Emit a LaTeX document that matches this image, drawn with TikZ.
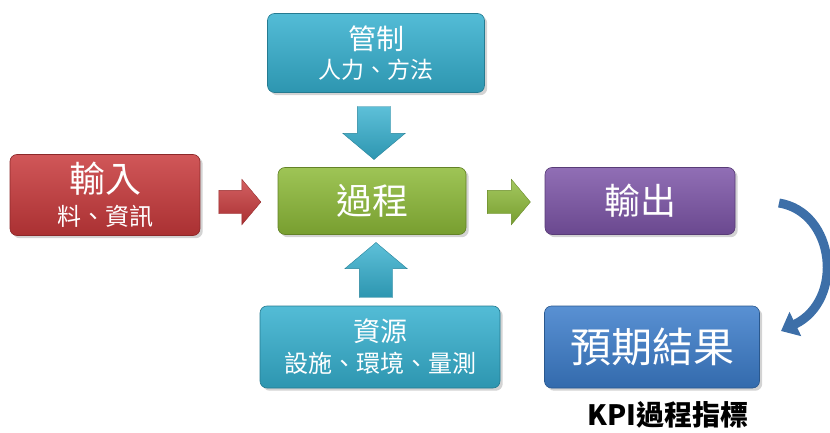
\documentclass[tikz,border=0pt]{standalone}
\usepackage{fontspec}
\setmainfont{Noto Sans CJK TC}
\usepackage{tikz}
\usetikzlibrary{shapes.arrows,shadows,arrows.meta}

\definecolor{inred}{HTML}{C8393B}
\definecolor{procgreen}{HTML}{8DBA38}
\definecolor{outpurple}{HTML}{7D55A8}
\definecolor{ctrlcyan}{HTML}{35B0CF}
\definecolor{resblue}{HTML}{3C7DCB}
\definecolor{bendblue}{HTML}{3D6FA8}

\tikzset{
  stagebox/.style={rounded corners=7pt, draw=#1!70!black, line width=0.6pt,
    top color=#1!85!white, bottom color=#1!85!black, text=white,
    align=center, drop shadow={opacity=0.35}},
  flowarrow/.style={single arrow, draw=#1!75!black, line width=0.4pt,
    top color=#1!80!white, bottom color=#1!85!black,
    inner xsep=0pt, single arrow tip angle=100},
}

\begin{document}
\begin{tikzpicture}[x=1pt,y=-1pt]
\useasboundingbox (0,0) rectangle (830,433);

\node[stagebox=ctrlcyan, minimum width=217pt, minimum height=79pt,
  font=\fontsize{23}{29}\selectfont] (ctrl) at (376,53)
  {{\fontsize{28}{29}\selectfont 管制}\\人力、方法};
\node[stagebox=inred, minimum width=190pt, minimum height=81pt,
  font=\fontsize{24}{33}\selectfont] (input) at (105,195)
  {{\fontsize{36}{33}\selectfont 輸入}\\料、資訊};
\node[stagebox=procgreen, minimum width=188pt, minimum height=67pt,
  font=\fontsize{36}{40}\selectfont] (proc) at (372,201) {過程};
\node[stagebox=outpurple, minimum width=190pt, minimum height=67pt,
  font=\fontsize{36}{40}\selectfont] (output) at (640,201) {輸出};
\node[stagebox=ctrlcyan, minimum width=240pt, minimum height=82pt,
  font=\fontsize{24}{31}\selectfont] (res) at (380,347)
  {{\fontsize{27}{31}\selectfont 資源}\\設施、環境、量測};
\node[stagebox=resblue, minimum width=215pt, minimum height=82pt,
  font=\fontsize{41}{45}\selectfont] (result) at (652,347) {預期結果};

\node[font=\bfseries\fontsize{28}{30}\selectfont] (kpi) at (668,415) {KPI過程指標};

% block arrows between the stages
\node[flowarrow=inred, inner ysep=11.5pt, single arrow head extend=11pt,
  minimum height=42pt] (inarrow) at (235,202) {};
\node[flowarrow=procgreen, inner ysep=11.5pt, single arrow head extend=11pt,
  minimum height=43pt] (outarrow) at (504,202) {};
\node[flowarrow=ctrlcyan, inner ysep=16.5pt, single arrow head extend=14.5pt,
  minimum height=53pt, rotate=-90] (ctrlarrow) at (374,126) {};
\node[flowarrow=ctrlcyan, inner ysep=16.5pt, single arrow head extend=14.5pt,
  minimum height=55pt, rotate=90] (resarrow) at (376,277) {};

% bend from output down to result
\coordinate (bendstart) at (779,203);
\coordinate (bendend) at (781,331);
\draw[bendblue, line width=9pt, -{Triangle[length=16pt,width=26pt]}]
  (bendstart) .. controls (835,212) and (845,300) .. (bendend);

\end{tikzpicture}
\end{document}
